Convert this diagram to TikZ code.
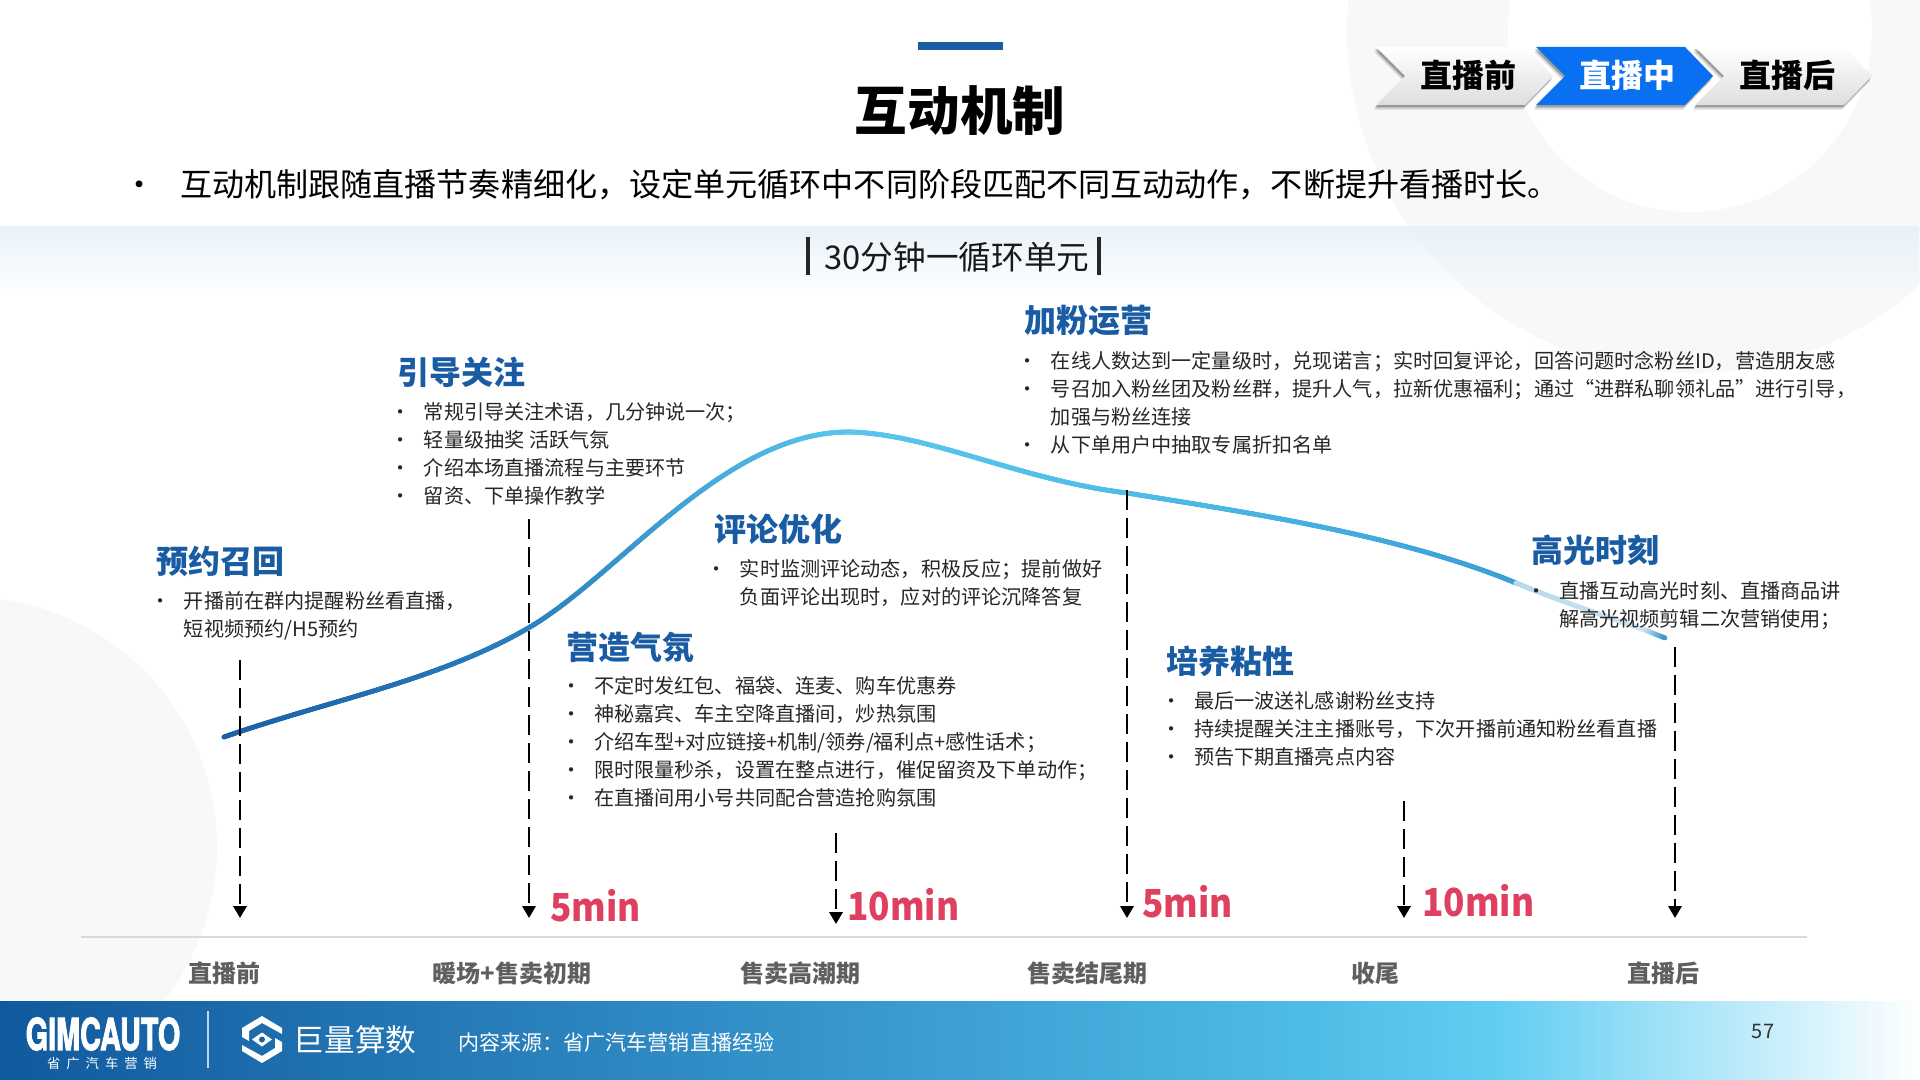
\documentclass[tikz,border=0pt]{standalone}
\usepackage{xcolor}
\usepackage{fontspec}
\usetikzlibrary{arrows.meta,decorations.markings,fadings}
\setmainfont{Noto Sans CJK SC}
\newfontfamily\logofont[BoldFeatures={FakeBold=2.5}]{TeX Gyre Heros}
\newfontfamily\spacedfont[LetterSpace=45]{Noto Sans CJK SC}

\definecolor{titleblue}{HTML}{1A5CA3}
\definecolor{bandblue}{HTML}{E8F2FA}
\definecolor{softgrey}{HTML}{F8F8F8}
\definecolor{stagegrey}{HTML}{5F5F5F}
\definecolor{minred}{HTML}{E0405F}
\definecolor{tabblue}{HTML}{0A70F2}
\definecolor{foota}{HTML}{11599E}
\definecolor{footb}{HTML}{3A9BD0}
\definecolor{footc}{HTML}{4DBCE6}
\definecolor{footd}{HTML}{62CDF2}
\definecolor{curvea}{HTML}{1B5FA6}
\definecolor{curveb}{HTML}{2A80BE}
\definecolor{curvec}{HTML}{5AC6EE}
\definecolor{curved}{HTML}{4FBDE8}
\definecolor{curvee}{HTML}{3A9FD5}
\definecolor{curvef}{HTML}{B5D9EE}
\definecolor{curveg}{HTML}{D0E5F2}
\definecolor{curveh}{HTML}{3F96D0}

\pgfdeclarehorizontalshading{footershade}{100bp}{
  color(0bp)=(foota);
  color(25bp)=(foota);
  color(48.5bp)=(footb);
  color(59bp)=(footc);
  color(64bp)=(footd);
  color(75bp)=(white);
  color(100bp)=(white)}
\tikzfading[name=bandfade, top color=transparent!0, bottom color=transparent!100]

% one list item, and the follow-on line of an item
\newcommand{\itm}[1]{\makebox[24.75pt][l]{•}#1}
\newcommand{\cnt}[1]{\hspace*{24.75pt}#1}

\begin{document}
\begin{tikzpicture}[
    x=0.75pt, y=-0.75pt,
    sectitle/.style={anchor=west, inner sep=0pt, text=titleblue, font=\fontsize{24}{28}\bfseries\selectfont},
    seclist/.style={anchor=north west, inner sep=0pt, align=left, text=black!85, font=\fontsize{15.1}{21}\selectfont},
    stagename/.style={inner sep=0pt, text=stagegrey, font=\fontsize{18}{20}\bfseries\selectfont},
    minlabel/.style={anchor=west, inner sep=0pt, text=minred, xscale=0.91, font=\fontsize{29}{32}\bfseries\selectfont},
    tabname/.style={inner sep=0pt, font=\fontsize{24}{28}\bfseries\selectfont},
    timeline/.style={line width=1.9pt, dash pattern=on 15pt off 6pt, -{Triangle[width=10pt,length=9pt]}},
    curvepart/.style 2 args={decoration={markings,
        mark=between positions 0 and 1 step 0.5pt with {
          \pgfmathsetmacro\mixval{min(100,100*(\pgfkeysvalueof{/pgf/decoration/mark info/distance from start}/\pgfdecoratedpathlength))}
          \fill[{#2!\mixval!#1}] (0,0) circle (1.875pt);
        }}, decorate},
    ]

    \useasboundingbox (0,0) rectangle (1920,1080);

    % background
    \fill[softgrey] (1690,30) circle (343);
    \fill[white] (1690,30) circle (182);
    \fill[softgrey] (-33,847) circle (250);
    \fill[bandblue, path fading=bandfade] (0,226) rectangle (1920,296);
    \shade[shading=footershade] (0,1001) rectangle (1920,1080);

    % header
    \fill[titleblue] (918,42) rectangle (1003,50);
    \node[inner sep=0pt, font=\fontsize{39.4}{42}\bfseries\selectfont] (title) at (960,111) {互动机制};
    \node[anchor=west, inner sep=0pt, font=\fontsize{24.06}{28}\selectfont] (intro) at (123,185)
        {\makebox[42.75pt][l]{•}互动机制跟随直播节奏精细化，设定单元循环中不同阶段匹配不同互动动作，不断提升看播时长。};

    % stage tabs
    \foreach \tabx/\tabtop/\tabbot in {1376/white/black!13, 1536/tabblue/tabblue, 1695/white/black!13}{
        \fill[black, opacity=0.14, xshift=-1.5pt, yshift=-3.5pt] (\tabx,47) -- ++(149,0) -- ++(28,29) -- ++(-28,29) -- ++(-149,0) -- ++(29,-29) -- cycle;
        \fill[black, opacity=0.28, xshift=-1pt, yshift=-1.8pt] (\tabx,47) -- ++(149,0) -- ++(28,29) -- ++(-28,29) -- ++(-149,0) -- ++(29,-29) -- cycle;
        \shade[top color=\tabtop, bottom color=\tabbot] (\tabx,47) -- ++(149,0) -- ++(28,29) -- ++(-28,29) -- ++(-149,0) -- ++(29,-29) -- cycle;
    }
    \node[tabname] (tab1) at (1468,75) {直播前};
    \node[tabname, text=white] (tab2) at (1627,75) {直播中};
    \node[tabname] (tab3) at (1787,75) {直播后};

    % loop heading
    \node[inner sep=0pt, text=black!90, font=\fontsize{24.5}{28}\selectfont] (loop) at (957,257) {30分钟一循环单元};
    \draw[line width=3.6pt, black!85] (808,237) -- (808,275);
    \draw[line width=3.6pt, black!85] (1099,237) -- (1099,275);

    % viewers curve
    \path[curvepart={curvea}{curveb}] (224,737) .. controls (330,700) and (440,680) .. (530,627);
    \path[curvepart={curveb}{curvec}] (530,627) .. controls (620,574) and (725,431) .. (850,432);
    \path[curvepart={curvec}{curved}] (850,432) .. controls (930,434) and (1020,480) .. (1127,493);
    \path[curvepart={curved}{curvee}] (1127,493) .. controls (1250,513) and (1400,535) .. (1516,583);
    \path[curvepart={curvef}{curveg}] (1516,583) .. controls (1565,603) and (1605,616) .. (1645,630);
    \path[curvepart={curveg}{curveh}] (1645,630) -- (1665,638);

    % time axis
    \coordinate (axisl) at (81,937);
    \coordinate (axisr) at (1807,937);
    \draw[line width=1.1pt, black!15] (axisl) -- (axisr);

    \foreach \tname/\tx/\tya/\tyb in {ta/240/660/918, tb/529/519/918, tc/836/833/924, td/1127/490/918, te/1404/801/918, tf/1675/647/918}{
        \coordinate (\tname1) at (\tx,\tya);
        \coordinate (\tname2) at (\tx,\tyb);
        \draw[timeline] (\tname1) -- (\tname2);
    }

    \node[minlabel] (min1) at (550,906) {5min};
    \node[minlabel] (min2) at (847,905) {10min};
    \node[minlabel] (min3) at (1142,902) {5min};
    \node[minlabel] (min4) at (1422,901) {10min};

    \node[stagename] (stage1) at (224,973) {直播前};
    \node[stagename] (stage2) at (512,973) {暖场+售卖初期};
    \node[stagename] (stage3) at (800,973) {售卖高潮期};
    \node[stagename] (stage4) at (1087,973) {售卖结尾期};
    \node[stagename] (stage5) at (1375,973) {收尾};
    \node[stagename] (stage6) at (1663,973) {直播后};

    % sections
    \node[sectitle] (yuyue) at (156,561) {预约召回};
    \node[seclist] (yuyuelist) at (150.7,591) {\itm{开播前在群内提醒粉丝看直播，}\\ \cnt{短视频预约/H5预约}};

    \node[sectitle] (yindao) at (397,372) {引导关注};
    \node[seclist] (yindaolist) at (390.7,402) {\itm{常规引导关注术语，几分钟说一次；}\\ \itm{轻量级抽奖 活跃气氛}\\ \itm{介绍本场直播流程与主要环节}\\ \itm{留资、下单操作教学}};

    \node[sectitle] (pinglun) at (714,529) {评论优化};
    \node[seclist] (pinglunlist) at (706.6,559) {\itm{实时监测评论动态，积极反应；提前做好}\\ \cnt{负面评论出现时，应对的评论沉降答复}};

    \node[sectitle] (yingzao) at (566,647) {营造气氛};
    \node[seclist] (yingzaolist) at (560.9,676) {\itm{不定时发红包、福袋、连麦、购车优惠券}\\ \itm{神秘嘉宾、车主空降直播间，炒热氛围}\\ \itm{介绍车型+对应链接+机制/领券/福利点+感性话术；}\\ \itm{限时限量秒杀，设置在整点进行，催促留资及下单动作；}\\ \itm{在直播间用小号共同配合营造抢购氛围}};

    \node[sectitle] (jiafen) at (1024,321) {加粉运营};
    \node[seclist] (jiafenlist) at (1017.6,351) {\itm{在线人数达到一定量级时，兑现诺言；实时回复评论，回答问题时念粉丝ID，营造朋友感}\\ \itm{号召加入粉丝团及粉丝群，提升人气，拉新优惠福利；通过“进群私聊领礼品”进行引导，}\\ \cnt{加强与粉丝连接}\\ \itm{从下单用户中抽取专属折扣名单}};

    \node[sectitle] (peiyang) at (1166,661) {培养粘性};
    \node[seclist] (peiyanglist) at (1160.9,691) {\itm{最后一波送礼感谢粉丝支持}\\ \itm{持续提醒关注主播账号，下次开播前通知粉丝看直播}\\ \itm{预告下期直播亮点内容}};

    \node[sectitle] (gaoguang) at (1531,550) {高光时刻};
    \node[seclist] (gaoguanglist) at (1525.8,581) {\itm{直播互动高光时刻、直播商品讲}\\ \cnt{解高光视频剪辑二次营销使用；}};

    % footer
    \node[inner sep=0pt, text=white, xscale=0.655, font=\logofont\fontsize{33}{36}\bfseries\selectfont] (gimc) at (103,1034) {GIMCAUTO};
    \node[inner sep=0pt, text=white, font=\spacedfont\fontsize{10}{12}\selectfont] (gimccn) at (102,1063) {省广汽车营销};
    \draw[line width=0.8pt, white!75!titleblue] (208,1011) -- (208,1068);
    \fill[white] (262,1016) -- (282,1028) -- (282,1034) -- (262,1023) -- (249,1031) -- (249,1041) -- (242,1037) -- (242,1028) -- cycle;
    \fill[white] (262,1063) -- (242,1051) -- (242,1045) -- (262,1056) -- (275,1048) -- (275,1038) -- (282,1042) -- (282,1051) -- cycle;
    \fill[white] (262,1032.5) -- (272,1039.5) -- (262,1046.5) -- (252,1039.5) -- cycle;
    \fill[foota!85!footb] (262,1039.5) circle (3);
    \node[inner sep=0pt, text=white, font=\fontsize{23}{26}\selectfont] (suanshu) at (355,1040) {巨量算数};
    \node[anchor=west, inner sep=0pt, text=white, font=\fontsize{15.8}{18}\selectfont] (source) at (458,1043) {内容来源：省广汽车营销直播经验};
    \node[inner sep=0pt, text=black!80, font=\fontsize{15}{18}\selectfont] (page) at (1763,1031) {57};

\end{tikzpicture}
\end{document}
